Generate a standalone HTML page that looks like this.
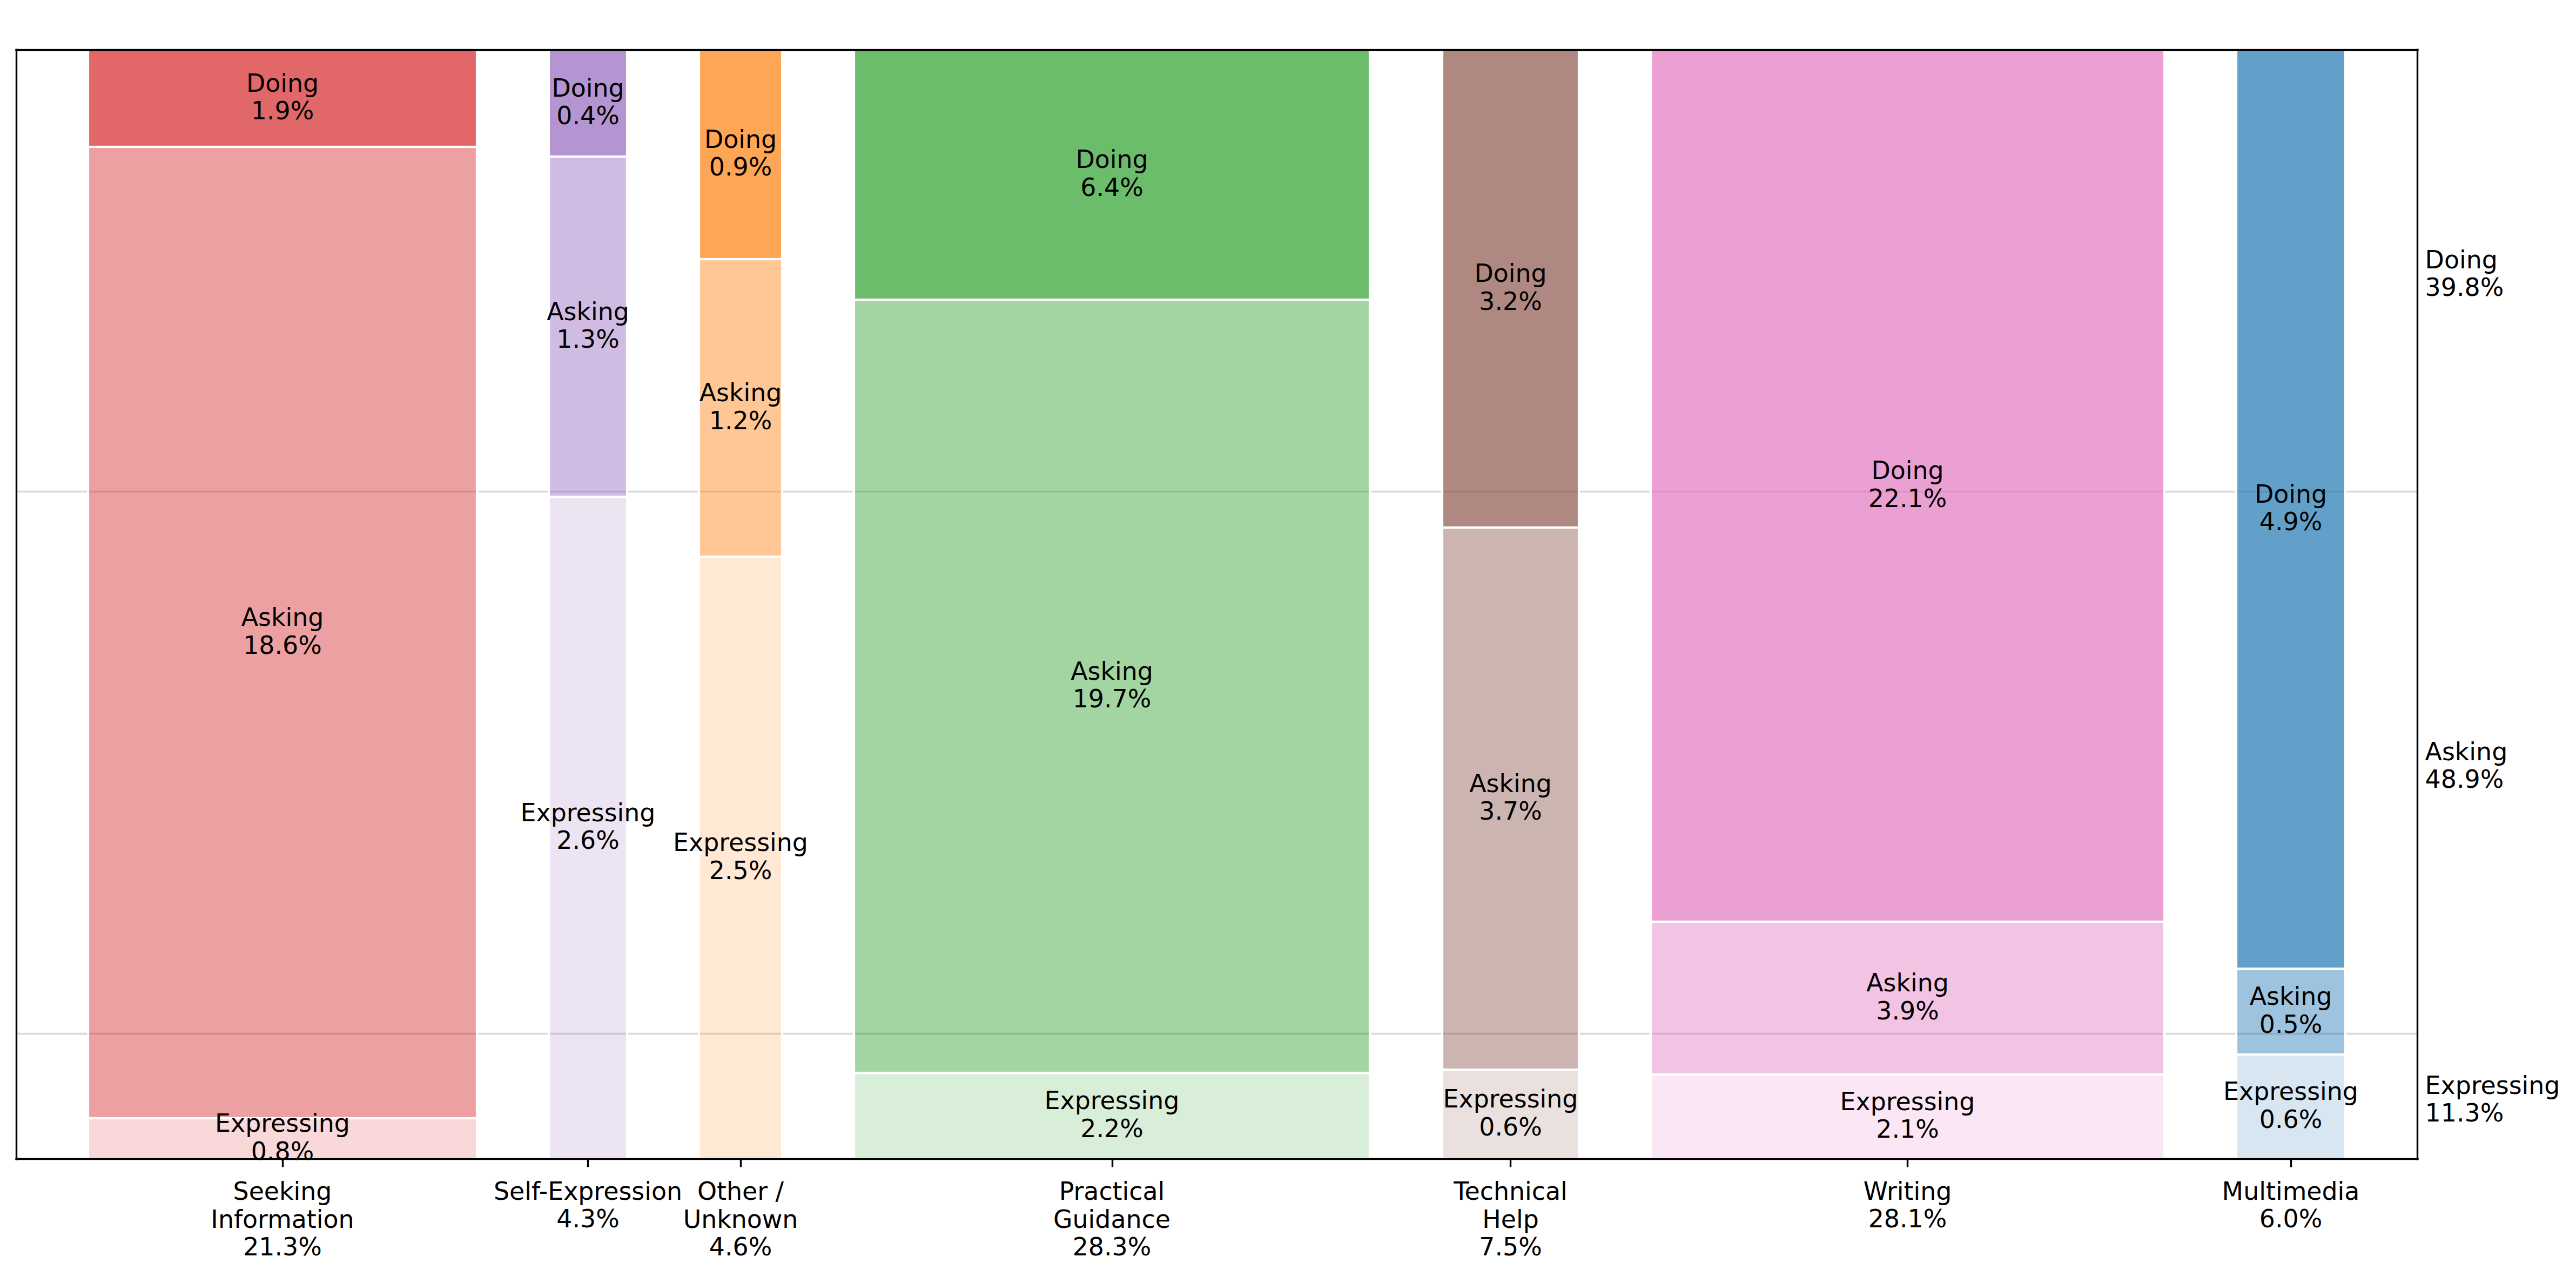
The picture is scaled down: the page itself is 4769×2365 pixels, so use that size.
<!DOCTYPE html>
<html lang="en"><head><meta charset="utf-8"><title>Mosaic chart</title>
<style>html,body{margin:0;padding:0;background:#fff}body{width:4769px;height:2365px;overflow:hidden}svg{display:block}text{font-family:"DejaVu Sans","Liberation Sans",sans-serif;font-size:45.83px;fill:#000}</style>
</head><body>
<svg width="4769" height="2365" viewBox="0 0 4769 2365">
<rect x="0" y="0" width="4769" height="2365" fill="#fff"/>
<g stroke="#d8d8d8" stroke-width="3.33">
<line x1="30.5" y1="910.5" x2="4475.5" y2="910.5"/>
<line x1="30.5" y1="1914.5" x2="4475.5" y2="1914.5"/>
</g>
<defs><clipPath id="axclip"><rect x="30.00" y="92.00" width="4445.00" height="2054.00"/></clipPath></defs>
<g stroke="#fff" stroke-width="4.17" clip-path="url(#axclip)">
<rect x="163.00" y="92.00" width="720.00" height="180.00" fill="rgb(214,39,40)" fill-opacity="0.70"/>
<rect x="163.00" y="272.00" width="720.00" height="1799.00" fill="rgb(214,39,40)" fill-opacity="0.44"/>
<rect x="163.00" y="2071.00" width="720.00" height="75.00" fill="rgb(214,39,40)" fill-opacity="0.18"/>
<rect x="1016.00" y="92.00" width="145.00" height="198.00" fill="rgb(148,103,189)" fill-opacity="0.70"/>
<rect x="1016.00" y="290.00" width="145.00" height="630.00" fill="rgb(148,103,189)" fill-opacity="0.44"/>
<rect x="1016.00" y="920.00" width="145.00" height="1226.00" fill="rgb(148,103,189)" fill-opacity="0.18"/>
<rect x="1294.00" y="92.00" width="154.00" height="388.00" fill="rgb(255,127,14)" fill-opacity="0.70"/>
<rect x="1294.00" y="480.00" width="154.00" height="551.00" fill="rgb(255,127,14)" fill-opacity="0.44"/>
<rect x="1294.00" y="1031.00" width="154.00" height="1115.00" fill="rgb(255,127,14)" fill-opacity="0.18"/>
<rect x="1581.00" y="92.00" width="955.00" height="463.00" fill="rgb(44,160,44)" fill-opacity="0.70"/>
<rect x="1581.00" y="555.00" width="955.00" height="1432.00" fill="rgb(44,160,44)" fill-opacity="0.44"/>
<rect x="1581.00" y="1987.00" width="955.00" height="159.00" fill="rgb(44,160,44)" fill-opacity="0.18"/>
<rect x="2670.00" y="92.00" width="253.00" height="885.00" fill="rgb(140,86,75)" fill-opacity="0.70"/>
<rect x="2670.00" y="977.00" width="253.00" height="1004.00" fill="rgb(140,86,75)" fill-opacity="0.44"/>
<rect x="2670.00" y="1981.00" width="253.00" height="165.00" fill="rgb(140,86,75)" fill-opacity="0.18"/>
<rect x="3056.00" y="92.00" width="951.00" height="1615.00" fill="rgb(227,119,194)" fill-opacity="0.70"/>
<rect x="3056.00" y="1707.00" width="951.00" height="283.00" fill="rgb(227,119,194)" fill-opacity="0.44"/>
<rect x="3056.00" y="1990.00" width="951.00" height="156.00" fill="rgb(227,119,194)" fill-opacity="0.18"/>
<rect x="4140.00" y="92.00" width="202.00" height="1702.00" fill="rgb(31,119,180)" fill-opacity="0.70"/>
<rect x="4140.00" y="1794.00" width="202.00" height="159.00" fill="rgb(31,119,180)" fill-opacity="0.44"/>
<rect x="4140.00" y="1953.00" width="202.00" height="193.00" fill="rgb(31,119,180)" fill-opacity="0.18"/>
</g>
<g stroke="#000" stroke-width="3.33" stroke-linecap="square" fill="none">
<line x1="30.50" y1="92.00" x2="30.50" y2="2147.00"/>
<line x1="4475.50" y1="92.00" x2="4475.50" y2="2147.00"/>
<line x1="30.00" y1="92.50" x2="4476.00" y2="92.50"/>
<line x1="30.00" y1="2146.50" x2="4476.00" y2="2146.50"/>
</g>
<g stroke="#000" stroke-width="3.33">
<line x1="523.50" y1="2146.50" x2="523.50" y2="2161.40"/>
<line x1="1088.50" y1="2146.50" x2="1088.50" y2="2161.40"/>
<line x1="1371.50" y1="2146.50" x2="1371.50" y2="2161.40"/>
<line x1="2059.50" y1="2146.50" x2="2059.50" y2="2161.40"/>
<line x1="2796.50" y1="2146.50" x2="2796.50" y2="2161.40"/>
<line x1="3531.50" y1="2146.50" x2="3531.50" y2="2161.40"/>
<line x1="4241.50" y1="2146.50" x2="4241.50" y2="2161.40"/>
</g>
<g text-anchor="middle">
<text x="523.00" y="169.50">Doing</text>
<text x="523.00" y="221.00">1.9%</text>
<text x="523.00" y="1159.00">Asking</text>
<text x="523.00" y="1210.50">18.6%</text>
<text x="523.00" y="2096.00">Expressing</text>
<text x="523.00" y="2147.50">0.8%</text>
<text x="1088.50" y="178.50">Doing</text>
<text x="1088.50" y="230.00">0.4%</text>
<text x="1088.50" y="592.50">Asking</text>
<text x="1088.50" y="644.00">1.3%</text>
<text x="1088.50" y="1520.50">Expressing</text>
<text x="1088.50" y="1572.00">2.6%</text>
<text x="1371.00" y="273.50">Doing</text>
<text x="1371.00" y="325.00">0.9%</text>
<text x="1371.00" y="743.00">Asking</text>
<text x="1371.00" y="794.50">1.2%</text>
<text x="1371.00" y="1576.00">Expressing</text>
<text x="1371.00" y="1627.50">2.5%</text>
<text x="2058.50" y="311.00">Doing</text>
<text x="2058.50" y="362.50">6.4%</text>
<text x="2058.50" y="1258.50">Asking</text>
<text x="2058.50" y="1310.00">19.7%</text>
<text x="2058.50" y="2054.00">Expressing</text>
<text x="2058.50" y="2105.50">2.2%</text>
<text x="2796.50" y="522.00">Doing</text>
<text x="2796.50" y="573.50">3.2%</text>
<text x="2796.50" y="1466.50">Asking</text>
<text x="2796.50" y="1518.00">3.7%</text>
<text x="2796.50" y="2051.00">Expressing</text>
<text x="2796.50" y="2102.50">0.6%</text>
<text x="3531.50" y="887.00">Doing</text>
<text x="3531.50" y="938.50">22.1%</text>
<text x="3531.50" y="1836.00">Asking</text>
<text x="3531.50" y="1887.50">3.9%</text>
<text x="3531.50" y="2055.50">Expressing</text>
<text x="3531.50" y="2107.00">2.1%</text>
<text x="4241.00" y="930.50">Doing</text>
<text x="4241.00" y="982.00">4.9%</text>
<text x="4241.00" y="1861.00">Asking</text>
<text x="4241.00" y="1912.50">0.5%</text>
<text x="4241.00" y="2037.00">Expressing</text>
<text x="4241.00" y="2088.50">0.6%</text>
<text x="523.00" y="2221.70">Seeking</text>
<text x="523.00" y="2273.90">Information</text>
<text x="523.00" y="2324.70">21.3%</text>
<text x="1088.50" y="2221.70">Self-Expression</text>
<text x="1088.50" y="2273.00">4.3%</text>
<text x="1371.00" y="2221.70">Other /</text>
<text x="1371.00" y="2273.90">Unknown</text>
<text x="1371.00" y="2324.70">4.6%</text>
<text x="2058.50" y="2221.70">Practical</text>
<text x="2058.50" y="2273.90">Guidance</text>
<text x="2058.50" y="2324.70">28.3%</text>
<text x="2796.50" y="2221.70">Technical</text>
<text x="2796.50" y="2273.90">Help</text>
<text x="2796.50" y="2324.70">7.5%</text>
<text x="3531.50" y="2221.70">Writing</text>
<text x="3531.50" y="2273.00">28.1%</text>
<text x="4241.00" y="2221.70">Multimedia</text>
<text x="4241.00" y="2273.00">6.0%</text>
</g>
<g>
<text x="4489.6" y="496.80">Doing</text>
<text x="4489.6" y="548.00">39.8%</text>
<text x="4489.6" y="1407.80">Asking</text>
<text x="4489.6" y="1459.00">48.9%</text>
<text x="4489.6" y="2026.10">Expressing</text>
<text x="4489.6" y="2077.30">11.3%</text>
</g>
</svg></body></html>
